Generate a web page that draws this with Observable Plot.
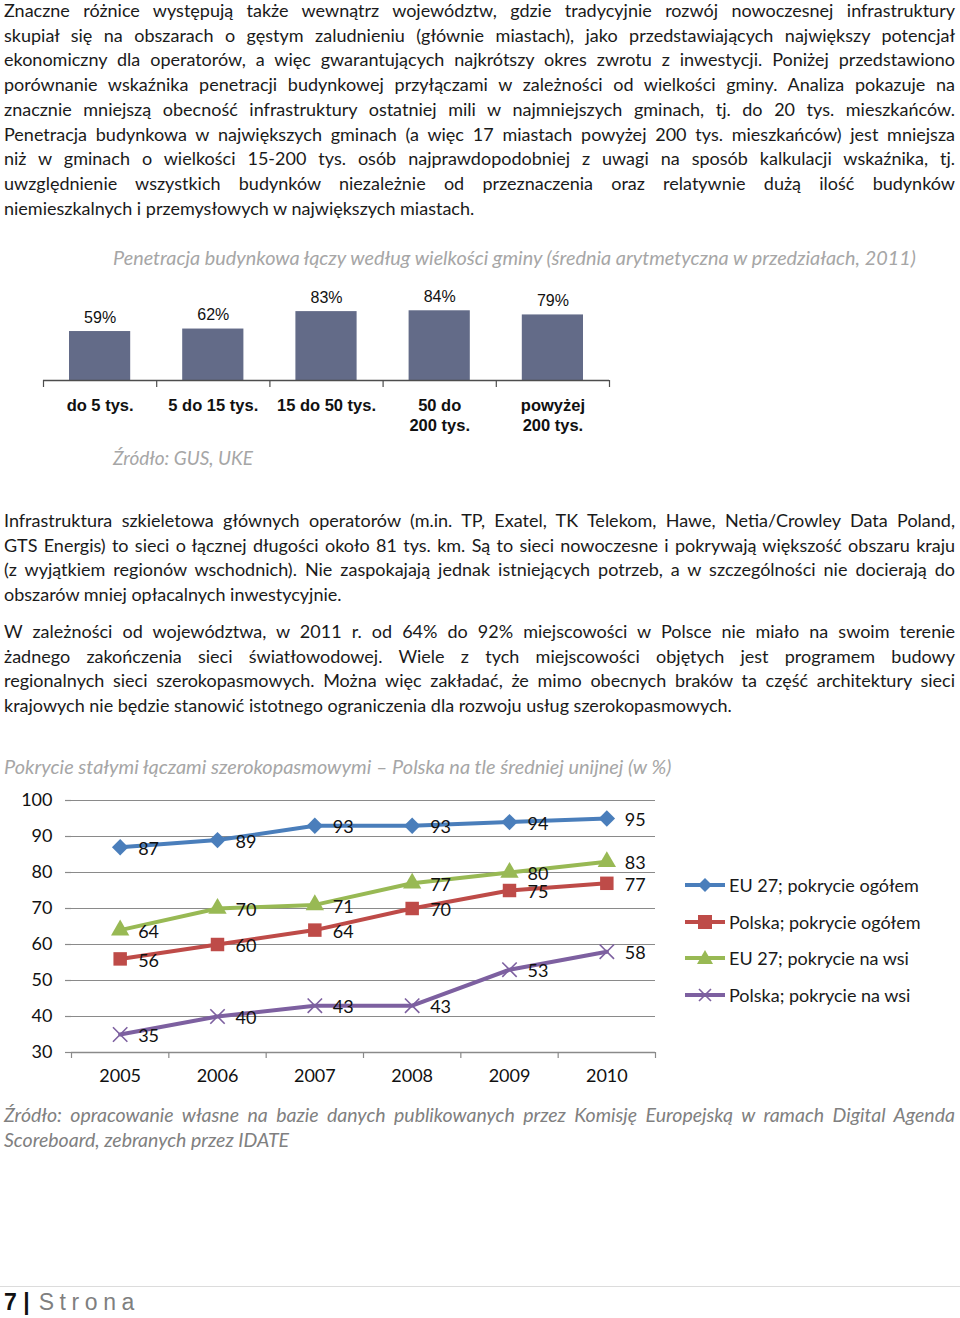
<!DOCTYPE html>
<html><head><meta charset="utf-8">
<script src="https://cdn.jsdelivr.net/npm/d3@7"></script>
<script src="https://cdn.jsdelivr.net/npm/@observablehq/plot@0.6"></script>
<style>
html,body{margin:0;padding:0;background:#fff}
body{width:960px;height:1318px;position:relative;overflow:hidden;font-family:Lato,"Open Sans",sans-serif;color:#1a1a1a}
.ln{position:absolute;white-space:nowrap;font-size:18px;line-height:24px;height:24px;display:inline-block}
.it{font-style:italic;color:#a6a6a6}
.src{font-style:italic;color:#808080}
.chart{position:absolute;left:0}
.leg{position:absolute;left:685px;height:24px;display:flex;align-items:center;font-size:18px;white-space:nowrap}
.leg svg{margin-right:4px}
</style></head>
<body>
<div id="page"></div>
<script>
// ---------- text content ----------
const para1 = [
"Znaczne różnice występują także wewnątrz województw, gdzie tradycyjnie rozwój nowoczesnej infrastruktury",
"skupiał się na obszarach o gęstym zaludnieniu (głównie miastach), jako przedstawiających największy potencjał",
"ekonomiczny dla operatorów, a więc gwarantujących najkrótszy okres zwrotu z inwestycji. Poniżej przedstawiono",
"porównanie wskaźnika penetracji budynkowej przyłączami w zależności od wielkości gminy. Analiza pokazuje na",
"znacznie mniejszą obecność infrastruktury ostatniej mili w najmniejszych gminach, tj. do 20 tys. mieszkańców.",
"Penetracja budynkowa w największych gminach (a więc 17 miastach powyżej 200 tys. mieszkańców) jest mniejsza",
"niż w gminach o wielkości 15-200 tys. osób najprawdopodobniej z uwagi na sposób kalkulacji wskaźnika, tj.",
"uwzględnienie wszystkich budynków niezależnie od przeznaczenia oraz relatywnie dużą ilość budynków",
"niemieszkalnych i przemysłowych w największych miastach."
];
const para2 = [
"Infrastruktura szkieletowa głównych operatorów (m.in. TP, Exatel, TK Telekom, Hawe, Netia/Crowley Data Poland,",
"GTS Energis) to sieci o łącznej długości około 81 tys. km. Są to sieci nowoczesne i pokrywają większość obszaru kraju",
"(z wyjątkiem regionów wschodnich). Nie zaspokajają jednak istniejących potrzeb, a w szczególności nie docierają do",
"obszarów mniej opłacalnych inwestycyjnie."
];
const para3 = [
"W zależności od województwa, w 2011 r. od 64% do 92% miejscowości w Polsce nie miało na swoim terenie",
"żadnego zakończenia sieci światłowodowej. Wiele z tych miejscowości objętych jest programem budowy",
"regionalnych sieci szerokopasmowych. Można więc zakładać, że mimo obecnych braków ta część architektury sieci",
"krajowych nie będzie stanowić istotnego ograniczenia dla rozwoju usług szerokopasmowych."
];
const barTitle = "Penetracja budynkowa łączy według wielkości gminy (średnia arytmetyczna w przedziałach, 2011)";
const barSource = "Źródło: GUS, UKE";
const lineTitle = "Pokrycie stałymi łączami szerokopasmowymi – Polska na tle średniej unijnej (w %)";
const lineSource = [
"Źródło: opracowanie własne na bazie danych publikowanych przez Komisję Europejską w ramach Digital Agenda",
"Scoreboard, zebranych przez IDATE"
];

// ---------- bar chart data ----------
const barCats = ["do 5 tys.", "5 do 15 tys.", "15 do 50 tys.", "50 do\n200 tys.", "powyżej\n200 tys."];
const barVals = [59, 62, 83, 84, 79];

// ---------- line chart data ----------
const years = [2005, 2006, 2007, 2008, 2009, 2010];
const seriesNames = ["EU 27; pokrycie ogółem", "Polska; pokrycie ogółem", "EU 27; pokrycie na wsi", "Polska; pokrycie na wsi"];
const euTotal = [87, 89, 93, 93, 94, 95];
const plTotal = [56, 60, 64, 70, 75, 77];
const euRural = [64, 70, 71, 77, 80, 83];
const plRural = [35, 40, 43, 43, 53, 58];
const yTicks = [30, 40, 50, 60, 70, 80, 90, 100];
const seriesColors = ["#4a7ebb", "#be4b48", "#98b954", "#7d60a0"];

const page = document.getElementById("page");
const lh = 24.7;
function addLine(text, x, cy, w, cls, fit) {
  const d = document.createElement("div");
  d.className = "ln" + (cls ? " " + cls : "");
  d.textContent = text;
  d.style.left = x + "px";
  d.style.top = (cy - 12) + "px";
  if (w) d.dataset.w = w;
  if (fit) d.dataset.fit = fit;
  page.appendChild(d);
  return d;
}
function addPara(lines, cy0) {
  lines.forEach((t, i) => addLine(t, 4, cy0 + i * lh, i < lines.length - 1 ? 951 : 0));
}
addPara(para1, 10);
addPara(para2, 520);
addPara(para3, 631);
addLine(barTitle, 113, 257, 0, "it", 803);
addLine(barSource, 113, 458, 0, "it", 140);
addLine(lineTitle, 4, 766, 0, "it", 668);
const src1 = addLine(lineSource[0], 4, 1115, 951, "src", "group");
const src2 = addLine(lineSource[1], 4, 1140, 0, "src");

// ---------- bar chart ----------
const barData = barCats.map((c, i) => ({i, c, v: barVals[i]}));
const barPlot = Plot.plot({
  width: 640, height: 160,
  marginLeft: 43, marginRight: 31, marginTop: 17, marginBottom: 60,
  x: {domain: [0, barCats.length], axis: null},
  y: {domain: [0, 100], axis: null},
  style: {fontFamily: "'Liberation Sans', Arial, sans-serif", background: "transparent", overflow: "visible", color: "#111"},
  marks: [
    Plot.rectY(barData, {x1: "i", x2: d => d.i + 1, y: "v", fill: "#636b88", insetLeft: 26, insetRight: 26}),
    Plot.ruleY([0], {stroke: "#4d4d4d", strokeWidth: 1.4}),
    Plot.axisX(d3.range(barCats.length + 1), {tickSize: 7, tickFormat: () => "", label: null, stroke: "#4d4d4d", strokeWidth: 1.2}),
    Plot.text(barData, {x: d => d.i + 0.5, y: "v", text: d => d.v + "%", dy: -14, fontSize: 16, fill: "#111"}),
    Plot.text(barData, {x: d => d.i + 0.5, y: 0, text: "c", lineAnchor: "top", dy: 17, fontSize: 16.5, fontWeight: "bold", lineHeight: 1.17, fill: "#111"})
  ]
});
barPlot.classList.add("chart");
barPlot.style.top = "280px";
page.appendChild(barPlot);

// ---------- line chart ----------
const seriesVals = [euTotal, plTotal, euRural, plRural];
const rows = [];
seriesNames.forEach((s, k) => years.forEach((y, j) => rows.push({s, k, year: y, value: seriesVals[k][j]})));
const sym = ["diamond2", "square", "triangle", "times"];
const symR = [7.4, 7.6, 6.8, 6.6];
const boundaries = d3.range(years.length + 1).map(i => years[0] - 0.5 + i);
const grid = "#8a8a8a";
const dotMarks = seriesNames.map((s, k) => {
  const data = rows.filter(d => d.k === k);
  const c = seriesColors[k];
  return sym[k] === "times"
    ? Plot.dot(data, {x: "year", y: "value", symbol: sym[k], r: symR[k], stroke: c, strokeWidth: 1.6, fill: "none"})
    : Plot.dot(data, {x: "year", y: "value", symbol: sym[k], r: symR[k], fill: c, stroke: "none"});
});
const linePlot = Plot.plot({
  width: 680, height: 300,
  marginLeft: 71, marginRight: 25, marginTop: 10, marginBottom: 38,
  x: {domain: [boundaries[0], boundaries[boundaries.length - 1]], axis: null},
  y: {domain: [30, 100], axis: null},
  color: {domain: seriesNames, range: seriesColors},
  style: {fontFamily: "Lato, 'Open Sans', sans-serif", background: "transparent", overflow: "visible", color: "#111"},
  marks: [
    Plot.gridY(yTicks, {stroke: grid, strokeOpacity: 1, strokeWidth: 1.2}),
    Plot.axisY(yTicks, {tickSize: 6, tickPadding: 13, fontSize: 18, label: null, stroke: grid, strokeWidth: 1.2}),
    Plot.ruleY([30], {stroke: grid, strokeWidth: 1.4}),
    Plot.axisX(boundaries, {tickSize: 6, tickFormat: () => "", label: null, stroke: grid, strokeWidth: 1.2}),
    Plot.axisX(years, {tickSize: 0, tickPadding: 17, fontSize: 18, label: null, tickFormat: d => String(d)}),
    Plot.line(rows, {x: "year", y: "value", z: "s", stroke: "s", strokeWidth: 4}),
    ...dotMarks,
    Plot.text(rows, {x: "year", y: "value", text: d => String(d.value), dx: 18, dy: 2, textAnchor: "start", fontSize: 18, fill: "#111"})
  ]
});
linePlot.classList.add("chart");
linePlot.style.top = "790px";
page.appendChild(linePlot);

// ---------- legend ----------
const legY = [885, 922, 958, 995];
const legSym = [
  c => `<path d="M20,-7 L27,0 L20,7 L13,0 Z" fill="${c}"/>`,
  c => `<rect x="13" y="-7" width="14" height="14" fill="${c}"/>`,
  c => `<path d="M20,-8 L28,6 L12,6 Z" fill="${c}"/>`,
  c => `<path d="M14,-6 L26,6 M26,-6 L14,6" stroke="${c}" stroke-width="1.6"/>`
];
seriesNames.forEach((s, k) => {
  const d = document.createElement("div");
  d.className = "leg";
  d.style.top = (legY[k] - 12) + "px";
  d.innerHTML = `<svg width="40" height="20" viewBox="0 -10 40 20"><line x1="0" x2="40" y1="0" y2="0" stroke="${seriesColors[k]}" stroke-width="4"/>${legSym[k](seriesColors[k])}</svg><span>${s}</span>`;
  page.appendChild(d);
});

// ---------- footer ----------
const hr = document.createElement("div");
hr.style.cssText = "position:absolute;left:0;top:1286px;width:960px;height:1px;background:#dcdcdc";
page.appendChild(hr);
const ft = document.createElement("div");
ft.style.cssText = "position:absolute;left:4px;top:1289px;font-family:'Liberation Sans',Arial,sans-serif;font-size:23px;line-height:26px;white-space:nowrap";
ft.innerHTML = `<b style="color:#111">7 |</b><span style="color:#7f7f7f;letter-spacing:5.6px;margin-left:9px">Strona</span>`;
page.appendChild(ft);

// ---------- justification / fitting ----------
function justify() {
  // italic titles: scale font size so the natural width matches the target
  document.querySelectorAll(".ln[data-fit]").forEach(e => {
    if (e.dataset.fit === "group") return;
    e.style.fontSize = "18px";
    const nat = e.getBoundingClientRect().width;
    e.style.fontSize = (18 * (+e.dataset.fit) / nat) + "px";
  });
  // bottom source: size from first line (slightly loose), then justify
  src1.style.fontSize = "18px"; src1.style.wordSpacing = "0px";
  const natS = src1.getBoundingClientRect().width;
  const fsS = Math.min(19.5, 18 * 951 / natS * 0.985);
  src1.style.fontSize = fsS + "px"; src2.style.fontSize = fsS + "px";

  const body = Array.from(document.querySelectorAll(".ln[data-w]")).filter(e => !e.classList.contains("src"));
  body.forEach(e => { e.style.wordSpacing = "0px"; e.style.fontSize = "18px"; });
  let maxR = 0;
  body.forEach(e => { maxR = Math.max(maxR, e.getBoundingClientRect().width / (+e.dataset.w)); });
  if (maxR > 0.995) {
    const fs = 18 / maxR * 0.99;
    document.querySelectorAll(".ln:not(.it):not(.src)").forEach(e => e.style.fontSize = fs + "px");
  }
  document.querySelectorAll(".ln[data-w]").forEach(e => {
    e.style.wordSpacing = "0px";
    const w = +e.dataset.w;
    const nat = e.getBoundingClientRect().width;
    const n = (e.textContent.match(/ /g) || []).length;
    if (n) e.style.wordSpacing = ((w - nat) / n) + "px";
  });
}
justify();
if (document.fonts && document.fonts.ready) document.fonts.ready.then(justify);
</script>
</body></html>
